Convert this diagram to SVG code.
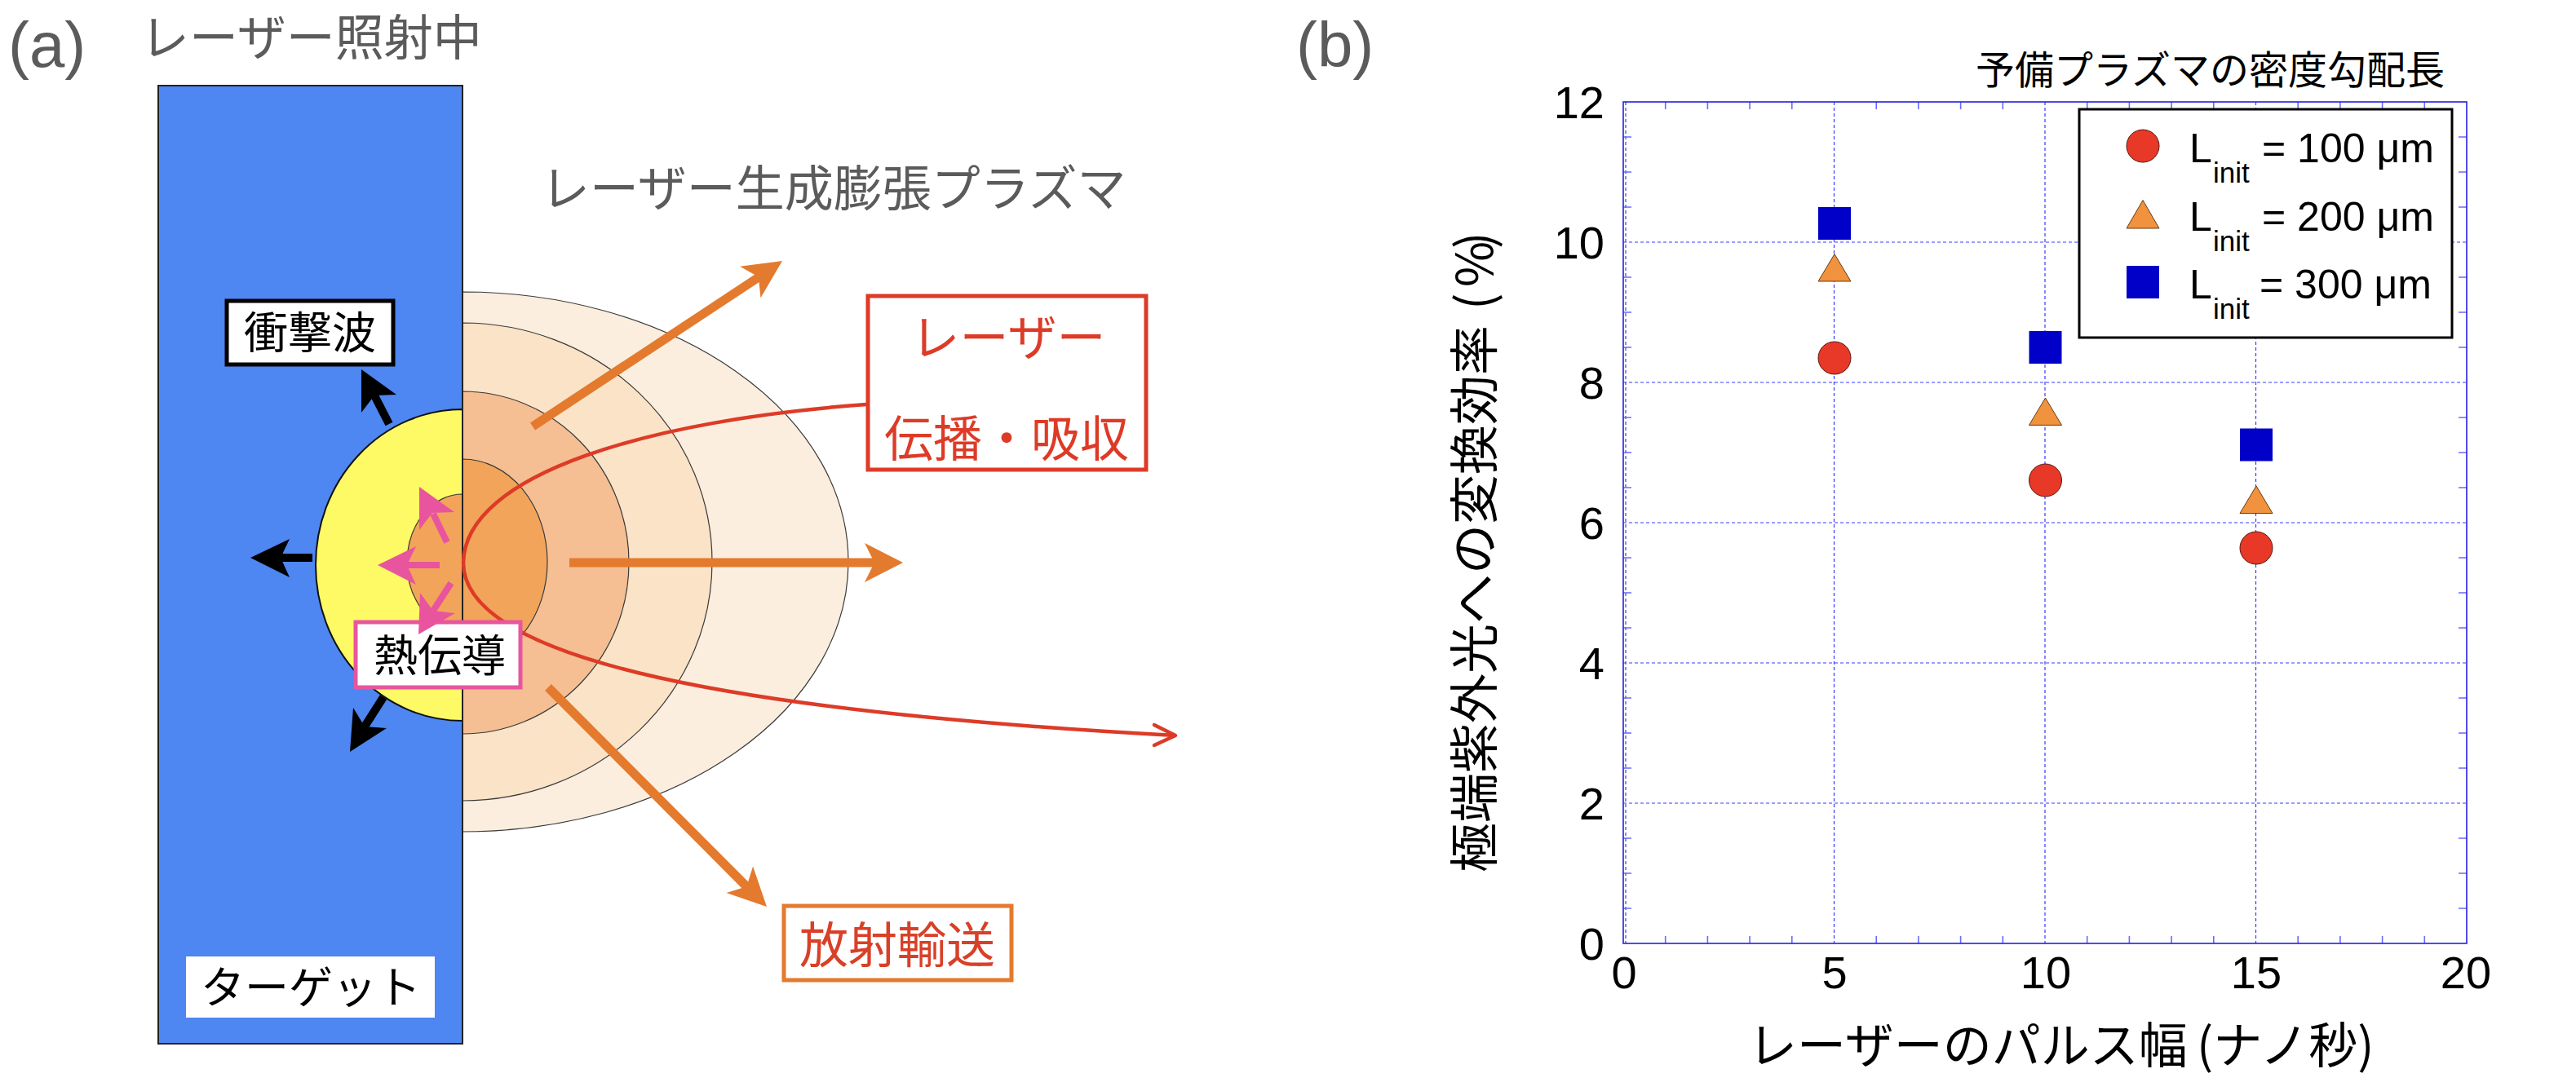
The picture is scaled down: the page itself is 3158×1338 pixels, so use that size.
<svg xmlns="http://www.w3.org/2000/svg" width="3158" height="1338" viewBox="0 0 3158 1338">
<style>
.jp{font-family:'Noto Sans CJK JP','Noto Sans',sans-serif}
.lat{font-family:'Liberation Sans',Arial,sans-serif}
.gray{fill:#5b5b5b}
.layer{stroke:#3a3a3a;stroke-width:1.2}
.grid{stroke:#3b3bff;stroke-width:1.2;stroke-dasharray:4 3;fill:none}
.tick{stroke:#6a6aff;stroke-width:1.6}
.cir{fill:#E83828;stroke:#5a1a10;stroke-width:1}
.tri{fill:#F0923E;stroke:#6a3a10;stroke-width:1}
.sq{fill:#0000C8}
.oshaft{stroke:#E37A2E;stroke-width:11;fill:none}
.ohead{fill:#E37A2E}
.bshaft{stroke:#000;stroke-width:10;fill:none}
.pshaft{stroke:#E8559E;stroke-width:8;fill:none}
.phead{fill:#E8559E}
</style>
<rect width="3158" height="1338" fill="#fff"/>

<!-- Panel (a) -->
<text class="lat gray" x="10" y="82" font-size="78">(a)</text>
<text id="title-a" class="jp gray" x="172" y="68" font-size="60">レーザー照射中</text>
<text id="title-plasma" class="jp gray" x="663" y="253" font-size="60">レーザー生成膨張プラズマ</text>

<g id="target">
<rect x="194" y="105" width="373" height="1175" fill="#4E86F2" stroke="#222" stroke-width="2"/>
</g>

<g id="heated">
<path d="M567,502 A180,191 0 0 0 567,884 Z" fill="#FEFA66" stroke="#111" stroke-width="2"/>
<path d="M567,606 A68,84 0 0 0 567,774 Z" fill="#F2A55A" class="layer"/>
</g>

<g id="plasma">
<path d="M567,358 A473,331 0 0 1 567,1020 Z" fill="#FBEEDE" class="layer"/>
<path d="M567,396 A306,293 0 0 1 567,982 Z" fill="#FAE3C6" class="layer"/>
<path d="M567,480 A204,210 0 0 1 567,900 Z" fill="#F5BE93" class="layer"/>
<path d="M567,563 A104,126 0 0 1 567,815 Z" fill="#F2A55A" class="layer"/>
<line x1="567" y1="105" x2="567" y2="1280" stroke="#222" stroke-width="2"/>
</g>

<g id="connectors">
<!-- black shock arrows -->
<line class="bshaft" x1="477" y1="520" x2="459" y2="485"/>
<polygon points="443,453 486,484 459,485 443,506"/>
<line class="bshaft" x1="383" y1="684" x2="344" y2="684"/>
<polygon points="307,684 355,661 344,684 355,708"/>
<line class="bshaft" x1="470" y1="855" x2="447" y2="891"/>
<polygon points="429,922 433,868 447,891 474,893"/>
<!-- laser path -->
<path d="M1062,496 C800,515 570,580 568,690 C568,800 850,870 1441,902" fill="none" stroke="#DD3B27" stroke-width="4.5"/>
<polyline points="1415,889 1441,902 1415,914" fill="none" stroke="#DD3B27" stroke-width="4.5" stroke-linecap="round" stroke-linejoin="round"/>
<!-- orange radiation arrows -->
<line class="oshaft" x1="653" y1="523" x2="930" y2="340"/>
<polygon class="ohead" points="959,320 932.5,365.2 929.8,339.4 907.1,326.8"/>
<line class="oshaft" x1="698" y1="690" x2="1074" y2="690"/>
<polygon class="ohead" points="1107,690 1060,714 1072,690 1060,666"/>
<line class="oshaft" x1="672" y1="843" x2="916" y2="1088"/>
<polygon class="ohead" points="940,1112 890.5,1094.9 915.3,1087.2 923.1,1062.5"/>
</g>

<g id="box-shock">
<rect x="278" y="369" width="204" height="78" fill="#fff" stroke="#000" stroke-width="5"/>
<text class="jp" x="380" y="428" font-size="54" text-anchor="middle" fill="#000">衝撃波</text>
</g>

<g id="box-target">
<rect x="228" y="1173" width="305" height="75" fill="#fff"/>
<text class="jp" x="381" y="1231" font-size="54" text-anchor="middle" fill="#000">ターゲット</text>
</g>

<g id="box-laser">
<rect x="1064" y="363" width="341" height="213" fill="#fff" stroke="#DD3B27" stroke-width="5"/>
<text class="jp" x="1236" y="436" font-size="60" text-anchor="middle" fill="#DD3B27">レーザー</text>
<text class="jp" x="1234" y="560" font-size="60" text-anchor="middle" fill="#DD3B27">伝播・吸収</text>
</g>

<g id="box-radiation">
<rect x="961" y="1111" width="279" height="91" fill="#fff" stroke="#E37A2E" stroke-width="5"/>
<text class="jp" x="1100" y="1181" font-size="60" text-anchor="middle" fill="#D84027">放射輸送</text>
</g>

<g id="box-conduction">
<rect x="436" y="763" width="202" height="80" fill="#fff" stroke="#E8559E" stroke-width="5"/>
<text class="jp" x="539" y="824" font-size="54" text-anchor="middle" fill="#000">熱伝導</text>
</g>

<g id="conduction-arrows">
<line class="pshaft" x1="548" y1="665" x2="531" y2="630"/>
<polygon class="phead" points="514,597 557,628 530,629 514,650"/>
<line class="pshaft" x1="539" y1="693" x2="498" y2="693"/>
<polygon class="phead" points="463,693 510,670 499,693 510,717"/>
<line class="pshaft" x1="553" y1="715" x2="531" y2="749"/>
<polygon class="phead" points="513,778 515,727 531,749 558,752"/>
</g>

<!-- Panel (b) -->
<text class="lat gray" x="1589" y="82" font-size="78">(b)</text>
<text id="title-b" class="jp" x="2422" y="103" font-size="48" fill="#000">予備プラズマの密度勾配長</text>

<g id="chart-grid">
<line class="grid" x1="1993" y1="125" x2="1993" y2="1157"/>
<line class="grid" x1="2248.5" y1="125" x2="2248.5" y2="1157"/>
<line class="grid" x1="2507" y1="125" x2="2507" y2="1157"/>
<line class="grid" x1="2765.5" y1="125" x2="2765.5" y2="1157"/>
<line class="grid" x1="1990" y1="297" x2="3024" y2="297"/>
<line class="grid" x1="1990" y1="469" x2="3024" y2="469"/>
<line class="grid" x1="1990" y1="641" x2="3024" y2="641"/>
<line class="grid" x1="1990" y1="813" x2="3024" y2="813"/>
<line class="grid" x1="1990" y1="985" x2="3024" y2="985"/>
</g>

<g id="chart-ticks">
<path class="tick" d="M2041.7,1157v-9M2093.4,1157v-9M2145.1,1157v-9M2196.8,1157v-9M2300.2,1157v-9M2351.9,1157v-9M2403.6,1157v-9M2455.3,1157v-9M2558.7,1157v-9M2610.4,1157v-9M2662.1,1157v-9M2713.8,1157v-9M2817.2,1157v-9M2868.9,1157v-9M2920.6,1157v-9M2972.3,1157v-9
M2041.7,125v9M2093.4,125v9M2145.1,125v9M2196.8,125v9M2300.2,125v9M2351.9,125v9M2403.6,125v9M2455.3,125v9M2558.7,125v9M2610.4,125v9M2662.1,125v9M2713.8,125v9M2817.2,125v9M2868.9,125v9M2920.6,125v9M2972.3,125v9
M1990,168h10M1990,211h10M1990,254h10M1990,340h10M1990,383h10M1990,426h10M1990,512h10M1990,555h10M1990,598h10M1990,684h10M1990,727h10M1990,770h10M1990,856h10M1990,899h10M1990,942h10M1990,1028h10M1990,1071h10M1990,1114h10
M3024,168h-10M3024,211h-10M3024,254h-10M3024,340h-10M3024,383h-10M3024,426h-10M3024,512h-10M3024,555h-10M3024,598h-10M3024,684h-10M3024,727h-10M3024,770h-10M3024,856h-10M3024,899h-10M3024,942h-10M3024,1028h-10M3024,1071h-10M3024,1114h-10"/>
<rect x="1990" y="125" width="1034" height="1032" fill="none" stroke="#2222dd" stroke-width="1.6"/>
</g>

<g id="chart-labels" class="lat" font-size="56" fill="#000">
<text x="1967" y="1177" text-anchor="end">0</text>
<text x="1967" y="1005" text-anchor="end">2</text>
<text x="1967" y="833" text-anchor="end">4</text>
<text x="1967" y="661" text-anchor="end">6</text>
<text x="1967" y="489" text-anchor="end">8</text>
<text x="1967" y="317" text-anchor="end">10</text>
<text x="1967" y="145" text-anchor="end">12</text>
<text x="1991" y="1212" text-anchor="middle">0</text>
<text x="2249" y="1212" text-anchor="middle">5</text>
<text x="2508" y="1212" text-anchor="middle">10</text>
<text x="2766" y="1212" text-anchor="middle">15</text>
<text x="3023" y="1212" text-anchor="middle">20</text>
</g>

<text id="xlabel" class="jp" x="2143" y="1304" font-size="60" fill="#000">レーザーのパルス幅 <tspan x="2693">(</tspan>ナノ秒)</text>
<text id="ylabel" class="jp" transform="translate(1830,1070) rotate(-90)" x="0" y="0" font-size="61" fill="#000">極端紫外光への変換効率 <tspan x="690">(</tspan><tspan x="718">%</tspan><tspan x="765">)</tspan></text>

<g id="data-100">
<circle class="cir" cx="2249" cy="439" r="20"/>
<circle class="cir" cx="2507.5" cy="589" r="20"/>
<circle class="cir" cx="2766" cy="672" r="20"/>
</g>
<g id="data-200">
<polygon class="tri" points="2249,311.6 2269,345 2229,345"/>
<polygon class="tri" points="2507.5,488 2527.5,521.4 2487.5,521.4"/>
<polygon class="tri" points="2766,596 2786,629.5 2746,629.5"/>
</g>
<g id="data-300">
<rect class="sq" x="2229" y="254" width="40" height="40"/>
<rect class="sq" x="2487.5" y="406" width="40" height="40"/>
<rect class="sq" x="2746" y="525.5" width="40" height="40"/>
</g>

<g id="legend">
<rect x="2549" y="134" width="457" height="280" fill="#fff" stroke="#000" stroke-width="3"/>
<circle class="cir" cx="2627" cy="179" r="20"/>
<polygon class="tri" points="2627,245.5 2647,280 2607,280"/>
<rect class="sq" x="2607" y="326" width="40" height="40"/>
<g class="lat" fill="#000">
<text x="2684" y="199" font-size="50">L</text>
<text x="2713" y="224" font-size="35">init</text>
<text x="2773" y="199" font-size="50">= 100 μm</text>
<text x="2684" y="283" font-size="50">L</text>
<text x="2713" y="308" font-size="35">init</text>
<text x="2773" y="283" font-size="50">= 200 μm</text>
<text x="2684" y="366" font-size="50">L</text>
<text x="2713" y="391" font-size="35">init</text>
<text x="2770" y="366" font-size="50">= 300 μm</text>
</g>
</g>
</svg>
